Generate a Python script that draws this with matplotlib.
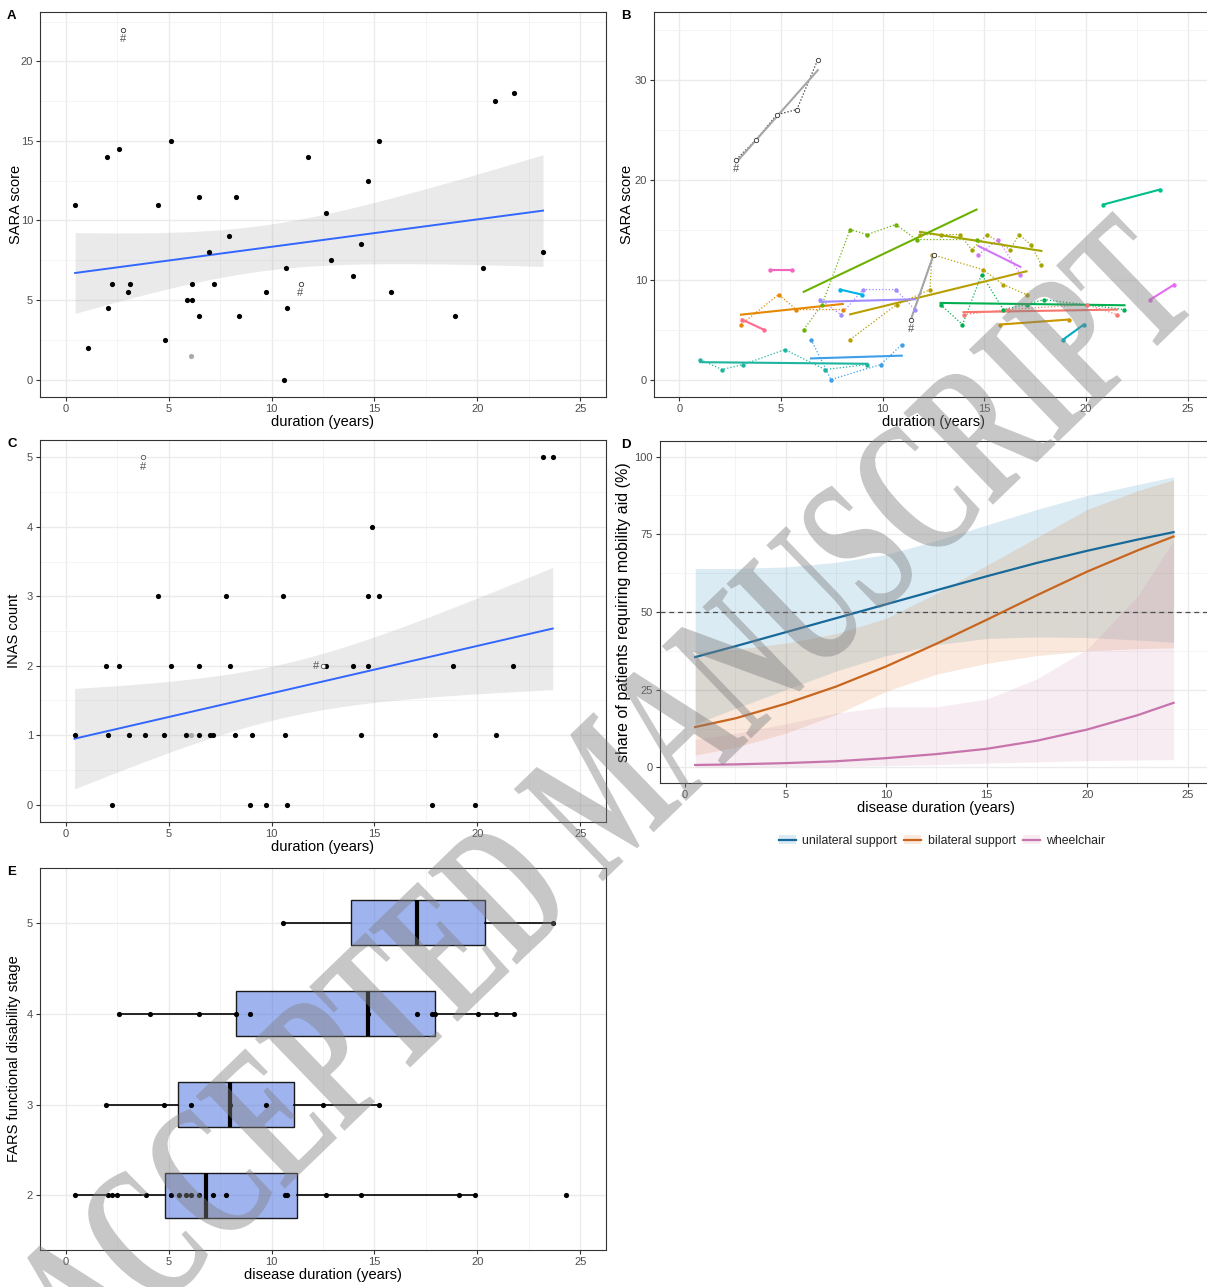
import numpy as np
import matplotlib
matplotlib.use("Agg")
import matplotlib.pyplot as plt
from matplotlib.lines import Line2D
from matplotlib.patches import Patch
from matplotlib import patheffects as pe
from matplotlib.transforms import Affine2D

plt.rcParams['font.family'] = ['Liberation Sans', 'DejaVu Sans']

# ---------------- data ----------------
# Panel A: SARA vs duration
a_x = [0.46, 1.07, 2.0, 2.04, 2.25, 2.61, 3.03, 3.13, 4.5, 4.81, 5.13, 5.88, 6.13, 6.13,
       6.5, 6.49, 6.95, 7.19, 7.92, 8.26, 8.44, 9.73, 10.59, 10.69, 10.76, 11.78, 12.65,
       12.9, 13.97, 14.37, 14.71, 15.21, 15.82, 18.91, 20.27, 20.88, 21.76, 23.19]
a_y = [11, 2, 14, 4.5, 6, 14.5, 5.5, 6, 11, 2.5, 15, 5, 6, 5,
       11.5, 4, 8, 6, 9, 11.5, 4, 5.5, 0, 7, 4.5, 14, 10.5,
       7.5, 6.5, 8.5, 12.5, 15, 5.5, 4, 7, 17.5, 18, 8]
a_gray_x = [6.1]
a_gray_y = [1.5]
a_hash_x = [2.8, 11.41]
a_hash_y = [22.0, 6.0]

# Panel B: longitudinal SARA per patient
b_x = [
    [3.08, 4.14],
    [13.98, 16.19, 20.04, 21.53],
    [3.03, 4.88, 5.75, 8.04],
    [15.77, 19.15],
    [8.4, 10.69, 12.33, 12.43, 14.92, 15.94, 17.08],
    [11.84, 12.85, 13.8, 14.38, 15.15, 16.26, 16.72, 17.28, 17.81],
    [6.12, 7.02, 8.4, 9.25, 10.64, 11.67, 14.62],
    [12.85, 13.93, 14.87, 15.94, 17.08, 17.93, 21.9],
    [20.85, 23.64],
    [1.03, 2.1, 3.14, 5.19, 7.17, 9.25],
    [18.88, 19.9],
    [7.91, 8.97],
    [6.48, 7.46, 9.9, 10.94],
    [6.93, 7.94, 9.05, 10.64, 11.59],
    [14.71, 15.69, 16.78],
    [23.17, 24.35],
    [4.47, 5.54],
]
b_y = [
    [6.0, 5.0],
    [6.5, 7.0, 7.5, 6.5],
    [5.5, 8.5, 7.0, 7.0],
    [5.5, 6.0],
    [4.0, 7.5, 9.0, 12.5, 11.0, 9.5, 8.5],
    [14.5, 14.5, 14.5, 13.0, 14.5, 13.0, 14.5, 13.5, 11.5],
    [5.0, 7.5, 15.0, 14.5, 15.5, 14.0, 14.0],
    [7.5, 5.5, 10.5, 7.0, 7.5, 8.0, 7.0],
    [17.5, 19.0],
    [2.0, 1.0, 1.5, 3.0, 1.0, 1.5],
    [4.0, 5.5],
    [9.0, 8.5],
    [4.0, 0.0, 1.5, 3.5],
    [8.0, 6.5, 9.0, 9.0, 7.0],
    [12.5, 14.0, 10.5],
    [8.0, 9.5],
    [11.0, 11.0],
]
b_hash1_x = [2.8, 3.78, 4.8, 5.78, 6.81]
b_hash1_y = [22.0, 24.0, 26.5, 27.0, 32.0]
b_hash2_x = [11.39, 12.51]
b_hash2_y = [6.0, 12.5]

# Panel C: INAS count vs duration
c_x = [23.2, 23.66, 14.9, 4.47, 7.8, 10.56, 14.69, 15.2,
       1.98, 2.59, 5.1, 6.48, 8.0, 12.65, 13.97, 14.69, 18.83, 21.75,
       0.43, 2.04, 3.1, 3.87, 4.79, 5.85, 6.48, 7.02, 7.14, 8.23, 9.05, 10.67, 14.35, 17.92, 20.9,
       2.23, 8.95, 9.72, 10.74, 17.79, 19.88]
c_y = [5, 5, 4, 3, 3, 3, 3, 3,
       2, 2, 2, 2, 2, 2, 2, 2, 2, 2,
       1, 1, 1, 1, 1, 1, 1, 1, 1, 1, 1, 1, 1, 1, 1,
       0, 0, 0, 0, 0, 0]
c_gray_x = [6.08]
c_gray_y = [1]
c_hash_x = [3.78, 12.5]
c_hash_y = [5, 2]

# Panel D: modelled share requiring mobility aid (%)
d_x = [0.5, 2.5, 5, 7.5, 10, 12.5, 15, 17.5, 20, 22.5, 24.3]
d_uni = [35.5, 39.0, 43.5, 48.0, 52.5, 57.0, 61.5, 65.8, 69.7, 73.3, 75.7]
d_uni_lo = [14, 19, 25, 31, 36, 39.5, 41.5, 42, 41.8, 41, 40.3]
d_uni_hi = [64, 64, 64.5, 66, 68.5, 73, 78, 83, 87.5, 91, 93.5]
d_bil = [13.0, 15.8, 20.5, 26.0, 32.5, 39.8, 47.5, 55.4, 63.0, 69.8, 74.3]
d_bil_lo = [4, 6.5, 11, 17, 24.5, 30, 33.5, 36, 37.5, 38.2, 38.5]
d_bil_hi = [37, 38, 40, 43, 48, 56, 65, 74, 83, 89, 92.5]
d_wc = [0.8, 1.0, 1.4, 2.0, 3.0, 4.3, 6.0, 8.6, 12.2, 16.8, 20.8]
d_wc_lo = [0.1, 0.2, 0.3, 0.4, 0.6, 0.9, 1.4, 1.8, 2.2, 2.4, 2.5]
d_wc_hi = [9, 11, 14, 17.5, 19.5, 19.5, 22, 28.5, 38, 55, 73]
d_labels = ["unilateral support", "bilateral support", "wheelchair"]

# Panel E: FARS stage vs disease duration
e_stage = [2, 3, 4, 5]
e_q1 = [4.81, 5.46, 8.25, 13.86]
e_med = [6.8, 8.0, 14.69, 17.09]
e_q3 = [11.22, 11.1, 17.92, 20.37]
e_whislo = [0.45, 1.98, 2.59, 10.57]
e_whishi = [19.88, 15.2, 21.77, 23.66]
e_pts = [
    [0.45, 2.05, 2.26, 2.5, 3.92, 5.14, 5.52, 5.86, 6.09, 6.49, 7.15, 7.8, 10.66, 10.77,
     12.65, 14.34, 19.1, 19.88, 24.3],
    [1.98, 4.8, 6.08, 8.0, 9.72, 12.48, 15.2],
    [2.59, 4.12, 6.5, 8.25, 8.95, 14.69, 17.09, 17.79, 17.92, 20.03, 20.92, 21.77],
    [10.57, 23.66],
]

# ---------------- styles ----------------
b_colors = ['#FF6C91', '#F8766D', '#E58700', '#C99800', '#B79F00', '#A3A500', '#6BB100',
            '#00B050', '#00C08B', '#1DB5A0', '#00ADC6', '#00B4E8', '#3D9FEA', '#A08CFF',
            '#D177F5', '#E76BF3', '#F564C0']
GRID = '#EBEBEB'
TXT = '#4D4D4D'
BORDER = '#333333'

fig = plt.figure(figsize=(12.07, 12.87), dpi=100)


def style(ax, xlim, ylim, xmaj, ymaj, xmin=None, ymin=None):
    ax.set_xlim(*xlim)
    ax.set_ylim(*ylim)
    ax.set_xticks(xmaj)
    ax.set_yticks(ymaj)
    if xmin is not None:
        ax.set_xticks(xmin, minor=True)
    if ymin is not None:
        ax.set_yticks(ymin, minor=True)
    ax.grid(which='major', color=GRID, lw=1.0)
    ax.grid(which='minor', color='#F2F2F2', lw=0.6)
    ax.set_axisbelow(True)
    for s in ax.spines.values():
        s.set_color(BORDER)
        s.set_linewidth(0.8)
    ax.tick_params(which='major', length=3, color=BORDER, labelcolor=TXT, labelsize=8, pad=2)
    ax.tick_params(which='minor', length=0)


XMAJ = [0, 5, 10, 15, 20, 25]
XMIN = [2.5, 7.5, 12.5, 17.5, 22.5]
XLIM = (-1.25, 26.25)


def lm_band(x, y, xs):
    x = np.asarray(x, float)
    y = np.asarray(y, float)
    n = len(x)
    b, a = np.polyfit(x, y, 1)
    res = y - (a + b * x)
    s = np.sqrt(np.sum(res ** 2) / (n - 2))
    sxx = np.sum((x - x.mean()) ** 2)
    se = s * np.sqrt(1.0 / n + (xs - x.mean()) ** 2 / sxx)
    fit = a + b * xs
    return fit, fit - 2.02 * se, fit + 2.02 * se


def labels(ax, xl, yl, lab, ylx, fs_y=10.5):
    ax.set_xlabel(xl, fontsize=10.5, labelpad=1)
    ax.set_ylabel(yl, fontsize=fs_y)
    ax.yaxis.set_label_coords(ylx, 0.5)
    ax.text(-0.058, 1.005, lab, transform=ax.transAxes, fontsize=9.5, fontweight='bold', va='top')


def hash_mark(ax, x, y, dx=0, dy=-3, ha='center', va='top'):
    ax.annotate('#', xy=(x, y), xytext=(dx, dy), textcoords='offset points',
                ha=ha, va=va, fontsize=8, color='#555555', rotation=0)

# ---------------- Panel A ----------------
axA = fig.add_axes([0.0331, 0.6915, 0.469, 0.2991])
style(axA, XLIM, (-1.1, 23.1), XMAJ, [0, 5, 10, 15, 20], XMIN, [2.5, 7.5, 12.5, 17.5, 22.5])
xs = np.linspace(min(a_x), max(a_x), 100)
fit, lo, hi = lm_band(a_x, a_y, xs)
axA.fill_between(xs, lo, hi, color='#999999', alpha=0.2, lw=0, zorder=2)
axA.plot(xs, fit, color='#3366FF', lw=1.4, zorder=3)
axA.scatter(a_x, a_y, s=14, color='black', lw=0, zorder=4)
axA.scatter(a_gray_x, a_gray_y, s=14, color='#AAAAAA', lw=0, zorder=4)
axA.scatter(a_hash_x, a_hash_y, s=10, facecolor='white', edgecolor='#333333', lw=0.6, zorder=4)
for hx, hy in zip(a_hash_x, a_hash_y):
    hash_mark(axA, hx, hy)
labels(axA, 'duration (years)', 'SARA score', 'A', -0.03)

# ---------------- Panel B ----------------
axB = fig.add_axes([0.5418, 0.6915, 0.4631, 0.2991])
style(axB, XLIM, (-1.75, 36.75), XMAJ, [0, 10, 20, 30], XMIN, [5, 15, 25, 35])
for px, py, col in zip(b_x, b_y, b_colors):
    axB.plot(px, py, color=col, lw=0.9, ls=(0, (1, 1.6)), zorder=3)
for px, py, col in zip(b_x, b_y, b_colors):
    xx = np.array([min(px), max(px)])
    b1, b0 = np.polyfit(px, py, 1)
    axB.plot(xx, b0 + b1 * xx, color=col, lw=1.5, zorder=4)
    axB.scatter(px, py, s=10, color=col, lw=0, zorder=5)
for gx, gy in ((b_hash1_x, b_hash1_y), (b_hash2_x, b_hash2_y)):
    axB.plot(gx, gy, color='#333333', lw=0.9, ls=(0, (1, 1.6)), zorder=3)
    xx = np.array([min(gx), max(gx)])
    b1, b0 = np.polyfit(gx, gy, 1)
    axB.plot(xx, b0 + b1 * xx, color='#A6A6A6', lw=1.5, zorder=4)
    axB.scatter(gx, gy, s=10, facecolor='white', edgecolor='#333333', lw=0.6, zorder=5)
    hash_mark(axB, gx[0], gy[0])
labels(axB, 'duration (years)', 'SARA score', 'B', -0.036)

# ---------------- Panel C ----------------
axC = fig.add_axes([0.0331, 0.3613, 0.469, 0.2968])
style(axC, XLIM, (-0.25, 5.25), XMAJ, [0, 1, 2, 3, 4, 5], XMIN, [0.5, 1.5, 2.5, 3.5, 4.5])
xs = np.linspace(min(c_x), max(c_x), 100)
fit, lo, hi = lm_band(c_x, c_y, xs)
axC.fill_between(xs, lo, hi, color='#999999', alpha=0.2, lw=0, zorder=2)
axC.plot(xs, fit, color='#3366FF', lw=1.4, zorder=3)
axC.scatter(c_x, c_y, s=14, color='black', lw=0, zorder=4)
axC.scatter(c_gray_x, c_gray_y, s=14, color='#AAAAAA', lw=0, zorder=4)
axC.scatter(c_hash_x, c_hash_y, s=10, facecolor='white', edgecolor='#555555', lw=0.6, zorder=4)
hash_mark(axC, c_hash_x[0], c_hash_y[0])
hash_mark(axC, c_hash_x[1], c_hash_y[1], dx=-3, dy=0, ha='right', va='center')
labels(axC, 'duration (years)', 'INAS count', 'C', -0.033)

# ---------------- Panel D ----------------
axD = fig.add_axes([0.5468, 0.3916, 0.458, 0.2657])
style(axD, XLIM, (-5, 105), XMAJ, [0, 25, 50, 75, 100], XMIN, [12.5, 37.5, 62.5, 87.5])
d_line_cols = ['#17699A', '#C8651E', '#C774AD']
d_fill_cols = ['#0072B2', '#D55E00', '#CC79A7']
series = [(d_uni, d_uni_lo, d_uni_hi), (d_bil, d_bil_lo, d_bil_hi), (d_wc, d_wc_lo, d_wc_hi)]
for (m, lo, hi), fc in zip(series, d_fill_cols):
    axD.fill_between(d_x, lo, hi, color=fc, alpha=0.14, lw=0, zorder=2)
for (m, lo, hi), lc in zip(series, d_line_cols):
    axD.plot(d_x, m, color=lc, lw=1.6, zorder=4)
axD.axhline(50, color='#4D4D4D', lw=0.9, ls=(0, (4, 3)), zorder=3)
labels(axD, 'disease duration (years)', 'share of patients requiring mobility aid (%)', 'D',
       -0.052, fs_y=11.5)
axD.texts[-1].set_x(-0.07)
handles = [(Patch(facecolor=fc, alpha=0.14, lw=0), Line2D([], [], color=lc, lw=1.6))
           for fc, lc in zip(d_fill_cols, d_line_cols)]
fig.legend(handles, d_labels, loc='center', bbox_to_anchor=(942 / 1207, 1 - 841 / 1287),
           ncol=3, frameon=False, fontsize=8.8, handlelength=1.4, handletextpad=0.5,
           columnspacing=0.6, labelcolor='#222222')

# ---------------- Panel E ----------------
axE = fig.add_axes([0.0331, 0.0287, 0.469, 0.2968])
style(axE, XLIM, (1.4, 5.6), XMAJ, [2, 3, 4, 5], XMIN, None)
stats = [dict(med=m, q1=q1, q3=q3, whislo=wl, whishi=wh, fliers=[])
         for m, q1, q3, wl, wh in zip(e_med, e_q1, e_q3, e_whislo, e_whishi)]
bkw = dict(positions=e_stage, widths=0.5, patch_artist=True, showcaps=False,
           boxprops=dict(facecolor=(65 / 255, 105 / 255, 225 / 255, 0.5), edgecolor='#1a1a1a', lw=1.0),
           medianprops=dict(color='black', lw=3.0),
           whiskerprops=dict(color='black', lw=1.2), manage_ticks=False)
try:
    bp = axE.bxp(stats, orientation='horizontal', **bkw)
except TypeError:
    bp = axE.bxp(stats, vert=False, **bkw)
for pos, pts in zip(e_stage, e_pts):
    axE.scatter(pts, [pos] * len(pts), s=14, color='black', lw=0, zorder=4)
labels(axE, 'disease duration (years)', 'FARS functional disability stage', 'E', -0.033)


# ---------------- watermark ----------------
class Condense(pe.AbstractPathEffect):
    """Narrow the glyphs along the baseline, around the text centre."""
    def __init__(self, sx):
        super().__init__()
        self.sx = sx

    def draw_path(self, renderer, gc, tpath, affine, rgbFace=None):
        ext = tpath.get_extents()
        cx = 0.5 * (ext.x0 + ext.x1)
        t = Affine2D().translate(-cx, 0).scale(self.sx, 1).translate(cx, 0) + affine
        renderer.draw_path(gc, tpath, t, rgbFace)


fig.text(615 / 1207, 1 - 805 / 1287, 'ACCEPTED MANUSCRIPT', rotation=44, rotation_mode='anchor',
         ha='center', va='center', fontsize=141, fontweight='bold',
         family=['Liberation Serif', 'DejaVu Serif'],
         color=(0.5, 0.5, 0.5), alpha=0.44, zorder=100, path_effects=[Condense(0.63)])

fig.savefig('out.png', dpi=100)
